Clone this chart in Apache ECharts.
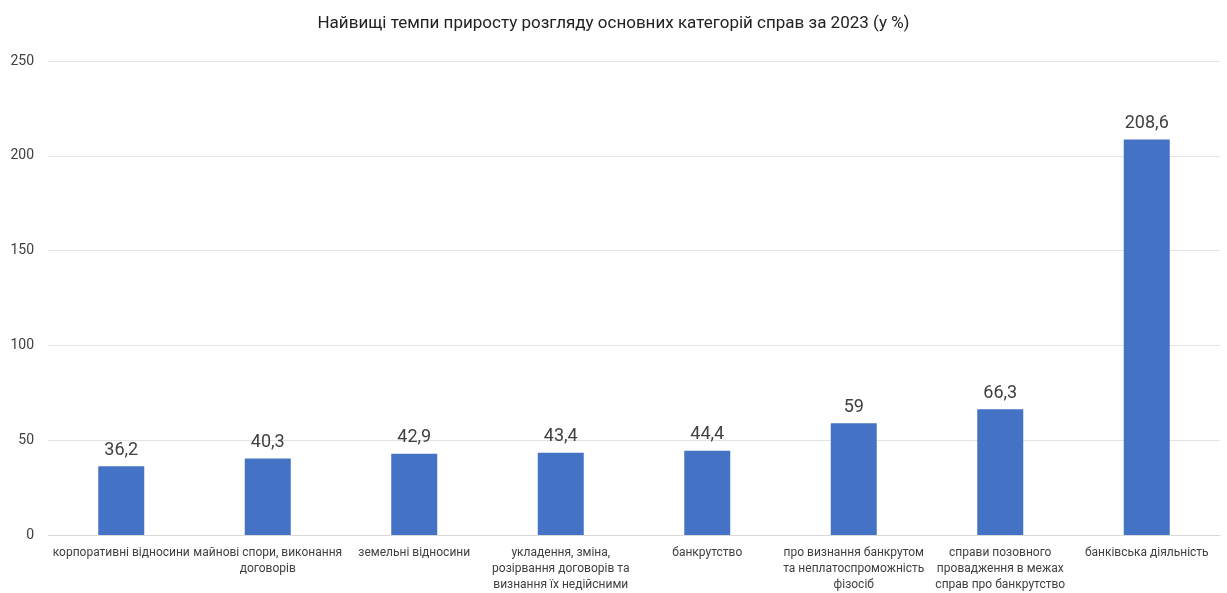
<!DOCTYPE html>
<html><head><meta charset="utf-8">
<script src="https://cdn.jsdelivr.net/npm/echarts@6/dist/echarts.min.js"></script>
<style>html,body{margin:0;padding:0;background:#fff}#c{width:1227px;height:593px}</style>
</head><body><div id="c"></div>
<script>
const categories = [
  'корпоративні відносини',
  'майнові спори, виконання\nдоговорів',
  'земельні відносини',
  'укладення, зміна,\nрозірвання договорів та\nвизнання їх недійсними',
  'банкрутство',
  'про визнання банкрутом\nта неплатоспроможність\nфізосіб',
  'справи позовного\nпровадження в межах\nсправ про банкрутство',
  'банківська діяльність'
];
const values = [36.2, 40.3, 42.9, 43.4, 44.4, 59, 66.3, 208.6];
const yTicks = [0, 50, 100, 150, 200, 250];
const FF = "Roboto, sans-serif";
const chart = echarts.init(document.getElementById('c'));
chart.setOption({
  animation: false,
  textStyle: {fontFamily: FF},
  title: {text: 'Найвищі темпи приросту розгляду основних категорій справ за 2023 (у %)', left: 'center', top: 10,
    textStyle: {fontFamily: FF, fontSize: 17, fontWeight: 'normal', color: '#222'}},
  grid: {left: 48, right: 7, top: 61, bottom: 56},
  xAxis: {type: 'category', data: categories,
    axisLine: {show: true, lineStyle: {color: '#d9d9d9'}}, axisTick: {show: false},
    axisLabel: {interval: 0, color: '#404040', fontSize: 12, fontFamily: FF, lineHeight: 16, margin: 10}},
  yAxis: {type: 'value', min: yTicks[0], max: yTicks[yTicks.length-1], interval: 50,
    axisLine: {show: false}, axisTick: {show: false},
    splitLine: {lineStyle: {color: '#e3e3e3'}},
    axisLabel: {color: '#404040', fontSize: 14, fontFamily: FF, margin: 14}},
  series: [{type: 'bar', data: values, barWidth: 46,
    itemStyle: {color: '#4472c4'},
    label: {show: true, position: 'top', distance: 7, color: '#404040', fontSize: 18, fontFamily: FF,
      formatter: p => String(p.value).replace('.', ',')}}]
});
</script></body></html>
